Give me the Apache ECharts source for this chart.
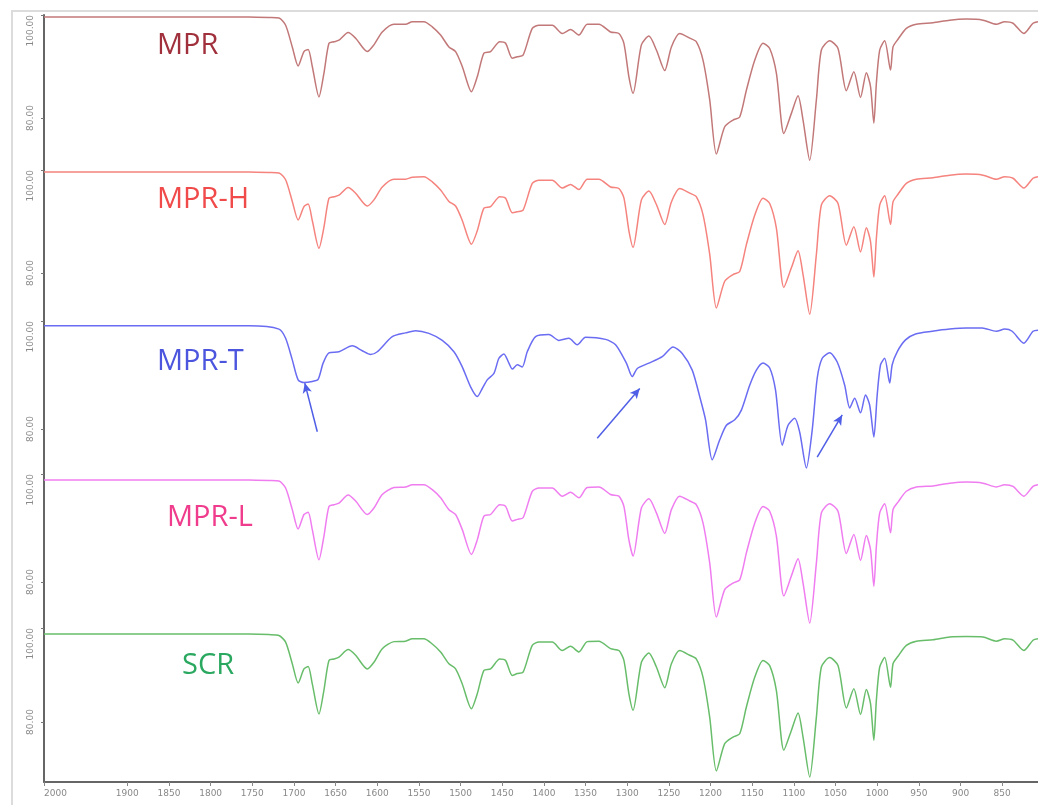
<!DOCTYPE html>
<html>
<head>
<meta charset="utf-8">
<script src="https://cdn.jsdelivr.net/npm/echarts@6/dist/echarts.min.js"></script>
<style>html,body{margin:0;padding:0;background:#fff;}#c{width:1038px;height:805px;}</style>
</head>
<body>
<div id="c"></div>
<script>
// ---- data ----
const seriesNames = ['MPR', 'MPR-H', 'MPR-T', 'MPR-L', 'SCR'];
const xTickLabels = [2000, 1900, 1850, 1800, 1750, 1700, 1650, 1600, 1550, 1500, 1450, 1400, 1350, 1300, 1250, 1200, 1150, 1100, 1050, 1000, 950, 900, 850];
const yTickTop = [100];
const yTickLow = [80];

const wnMain = [2000,1874,1754,1730,1718,1710,1702,1695,1688,1683,1678,1670,1664,1658,1652,1646,1635,1626,1612,1604,1594,1580,1566,1558,1544,1534,1524,1514,1506,1498,1487,1480,1472,1464,1453,1446,1438,1432,1425,1414,1406,1390,1378,1368,1358,1348,1334,1320,1310,1304,1298,1293,1283,1274,1265,1255,1247,1237,1225,1217,1209,1201,1193,1183,1173,1165,1157,1147,1137,1129,1121,1112,1103,1095,1089,1081,1073,1067,1057,1047,1037,1028,1020,1013,1008,1004,1001,997,991,984,981,975,965,953,933,913,893,873,857,847,837,824,813,807];

const mprValues = [99.6,99.6,99.6,99.5,99.4,98.0,93.8,90.1,92.9,93.3,
  90.0,84.1,88.7,94.5,94.8,95.1,96.6,95.5,92.9,94.2,
  96.7,98.2,98.2,98.7,98.7,97.7,96.1,93.8,92.9,90.0,
  85.1,88.0,92.6,92.9,94.8,94.5,91.6,91.9,92.2,97.4,
  98.0,98.0,96.4,97.2,96.1,98.2,98.2,96.7,96.4,94.5,
  88.0,84.8,94.2,95.9,93.2,89.2,93.8,96.4,95.5,94.8,
  91.2,83.5,73.0,78.3,79.6,80.2,85.4,91.2,94.5,93.5,
  88.7,77.0,80.9,84.3,79.6,71.8,83.5,93.2,95.0,93.5,
  85.3,89.0,84.0,88.8,86.1,79.0,86.7,93.2,95.0,89.3,
  93.8,95.3,97.4,98.2,98.5,99.0,99.2,99.0,98.2,98.7,
  98.4,96.4,98.4,98.7];

const mprHValues = [99.6,99.6,99.6,99.5,99.4,98.1,93.9,90.3,92.9,93.4,
  90.2,84.8,88.9,94.5,94.8,95.1,96.6,95.5,93.0,94.2,
  96.7,98.2,98.2,98.6,98.7,97.7,96.1,93.9,93.0,90.2,
  85.6,88.2,92.6,92.9,94.8,94.5,91.7,91.9,92.2,97.4,
  98.0,98.0,96.5,97.2,96.2,98.2,98.2,96.7,96.4,94.6,
  88.2,85.0,94.2,95.9,93.3,89.4,93.8,96.4,95.5,94.8,
  91.3,83.6,73.2,78.4,79.7,80.3,85.5,91.2,94.5,93.5,
  88.7,77.2,81.0,84.3,79.7,72.0,83.6,93.2,95.0,93.5,
  85.4,89.0,84.1,88.8,86.1,79.2,86.7,93.2,95.0,89.4,
  93.8,95.3,97.4,98.2,98.5,99.0,99.2,99.0,98.2,98.7,
  98.4,96.5,98.4,98.7];

const mprLValues = [98.9,98.9,98.9,98.8,98.7,97.4,93.4,89.8,92.5,92.9,
  89.7,84.1,88.5,94.0,94.3,94.6,96.1,95.0,92.5,93.7,
  96.2,97.5,97.6,98.0,98.0,97.1,95.6,93.4,92.5,89.7,
  85.1,87.8,92.2,92.5,94.3,94.0,91.3,91.6,91.9,96.8,
  97.4,97.4,95.9,96.6,95.6,97.5,97.6,96.2,95.9,94.0,
  87.8,84.8,93.7,95.4,92.8,89.0,93.4,95.9,95.0,94.3,
  90.9,83.5,73.5,78.6,79.8,80.4,85.4,90.9,94.0,93.1,
  88.5,77.4,81.1,84.3,79.8,72.4,83.5,92.8,94.5,93.1,
  85.3,88.8,84.0,88.6,86.0,79.2,86.6,92.8,94.5,89.1,
  93.4,94.8,96.8,97.6,97.8,98.3,98.5,98.3,97.6,98.0,
  97.7,95.9,97.7,98.0];

const scrValues = [98.7,98.7,98.7,98.6,98.4,97.0,92.4,88.3,91.3,91.8,
  88.1,81.7,86.8,93.1,93.4,93.8,95.4,94.2,91.3,92.7,
  95.6,97.1,97.2,97.7,97.7,96.6,94.9,92.4,91.3,88.1,
  82.8,86.0,91.0,91.3,93.4,93.1,89.9,90.3,90.6,96.3,
  97.0,97.0,95.2,96.1,94.9,97.1,97.2,95.6,95.2,93.1,
  86.0,82.5,92.7,94.7,91.7,87.3,92.4,95.2,94.2,93.4,
  89.5,81.0,69.6,75.4,76.8,77.5,83.2,89.5,93.1,92.0,
  86.7,74.0,78.2,81.9,76.8,68.3,81.0,91.7,93.7,92.0,
  83.0,87.1,81.6,86.9,83.9,76.1,84.6,91.7,93.7,87.4,
  92.4,94.0,96.3,97.2,97.5,98.1,98.2,98.1,97.2,97.7,
  97.4,95.2,97.4,97.7];

const wnT = [2000,1754,1718,1710,1702,1695,1688,1678,1671,1665,1658,1646,1630,1618,1608,1600,1582,1566,1554,1538,1522,1508,1498,1488,1480,1474,1468,1460,1454,1448,1442,1438,1432,1426,1420,1410,1394,1382,1370,1360,1350,1326,1314,1301,1294,1288,1274,1258,1245,1234,1222,1213,1206,1198,1189,1181,1171,1163,1153,1145,1137,1129,1122,1114,1107,1099,1093,1085,1078,1072,1066,1057,1048,1039,1033,1027,1020,1014,1009,1004,1000,996,991,985,982,976,966,954,934,913,893,874,857,847,838,824,813,807];
const mprTValues = [99.1,99.1,98.5,96.8,92.8,89.1,88.6,88.8,89.2,92.2,
  94.1,94.3,95.4,94.5,93.8,94.3,97.1,97.8,98.2,97.7,
  96.4,94.3,91.5,87.8,86.0,87.5,89.1,90.3,93.1,93.9,
  92.2,91.1,91.9,91.5,94.3,97.1,97.5,96.4,96.8,95.6,
  97.0,96.6,95.6,92.2,89.7,91.2,92.2,93.4,95.2,94.0,
  90.9,86.0,81.7,74.3,78.0,80.7,81.7,83.5,88.1,90.9,
  92.2,91.3,87.2,77.0,80.7,82.0,79.4,72.8,79.8,89.4,
  93.1,94.1,92.4,88.1,83.9,85.7,83.0,86.3,84.4,78.5,
  86.3,91.9,93.1,88.5,91.9,94.3,96.5,97.6,98.1,98.5,
  98.7,98.7,98.1,98.5,98.1,95.9,98.1,98.3];

// arrows on MPR-T: [from, to] in (wavenumber, value)
const arrowsT = [
  [[1672, 79.5], [1687, 88.5]],
  [[1336, 78.3], [1285, 87.5]],
  [[1072, 74.8], [1042, 82.6]]
];

// ---- styling / layout ----
const lineColors = ['#c27878', '#f5837e', '#6a6cf2', '#f07df0', '#68bd6a'];
const textColors = ['#a0303c', '#f04a4a', '#4b55dd', '#f03c8c', '#2aa860'];
const gridTops = [15, 170, 321, 474, 628];
const gridHeights = [206, 206, 216, 216, 154];
const yMins = [60, 60, 60, 60, 67.234];
const labelPos = [[157, 46], [157, 200], [157, 362], [167, 518], [182, 666]];

const X_MIN = 807, X_MAX = 2000;
const grids = [], xAxes = [], yAxes = [], series = [];
const valueSets = [mprValues, mprHValues, mprTValues, mprLValues, scrValues];
const wnSets = [wnMain, wnMain, wnT, wnMain, wnMain];

for (let i = 0; i < 5; i++) {
  grids.push({ left: 44, right: 0, top: gridTops[i], height: gridHeights[i], containLabel: false });
  const last = i === 4;
  xAxes.push({
    type: 'value', gridIndex: i, min: X_MIN, max: X_MAX, inverse: true, show: last,
    axisLine: { show: true, onZero: false, lineStyle: { color: '#666', width: 2 } },
    axisTick: { show: true, length: 4, customValues: xTickLabels, lineStyle: { color: '#888' } },
    axisLabel: {
      show: true, customValues: xTickLabels, color: '#888', fontSize: 9, fontFamily: 'DejaVu Sans', margin: 7,
      formatter: v => (Number(v) === 2000 ? '{first|' + String(v) + '}' : String(v)),
      rich: { first: { padding: [0, 0, 0, 23], color: '#888', fontSize: 9, fontFamily: 'DejaVu Sans' } }
    },
    splitLine: { show: false }
  });
  const yBase = {
    type: 'value', gridIndex: i, min: yMins[i], max: 100, position: 'left', offset: 0,
    splitLine: { show: false }
  };
  yAxes.push(Object.assign({}, yBase, {
    axisLine: { show: true, lineStyle: { color: '#666', width: 2 } },
    axisTick: { show: true, length: 3, customValues: yTickTop, lineStyle: { color: '#777' } },
    axisLabel: { customValues: yTickTop, rotate: 90, align: 'right', verticalAlign: 'middle', margin: 13,
      color: '#888', fontSize: 9, fontFamily: 'DejaVu Sans', formatter: v => Number(v).toFixed(2) }
  }));
  yAxes.push(Object.assign({}, yBase, {
    axisLine: { show: false },
    axisTick: { show: true, length: 3, customValues: yTickLow, lineStyle: { color: '#777' } },
    axisLabel: { customValues: yTickLow, rotate: 90, align: 'center', verticalAlign: 'middle', margin: 13,
      color: '#888', fontSize: 9, fontFamily: 'DejaVu Sans', formatter: v => Number(v).toFixed(2) }
  }));
  const s = {
    type: 'line', name: seriesNames[i], xAxisIndex: i, yAxisIndex: 2 * i,
    data: wnSets[i].map((w, k) => [w, valueSets[i][k]]),
    showSymbol: false, smooth: 0.25, clip: false,
    lineStyle: { color: lineColors[i], width: 1.5 }, itemStyle: { color: lineColors[i] }
  };
  if (i === 2) {
    s.markLine = {
      silent: true, symbol: ['none', 'arrow'], symbolSize: [7, 10], animation: false,
      label: { show: false },
      lineStyle: { color: '#4f5ee6', width: 1.5, type: 'solid' },
      data: arrowsT.map(a => [{ coord: a[0] }, { coord: a[1] }])
    };
  }
  series.push(s);
}

const graphics = [
  { type: 'rect', shape: { x: 12, y: 11, width: 1200, height: 900 }, style: { fill: 'none', stroke: '#dcdcdc', lineWidth: 2 }, silent: true, z: -1 }
];
for (let i = 0; i < 5; i++) {
  graphics.push({
    type: 'text', x: labelPos[i][0], y: labelPos[i][1], silent: true,
    style: { text: seriesNames[i], fill: textColors[i], font: '29px "Open Sans"', align: 'left', verticalAlign: 'middle' }
  });
}

const chart = echarts.init(document.getElementById('c'));
chart.setOption({
  animation: false,
  backgroundColor: '#fff',
  grid: grids, xAxis: xAxes, yAxis: yAxes, series: series,
  graphic: graphics
});
</script>
</body>
</html>
